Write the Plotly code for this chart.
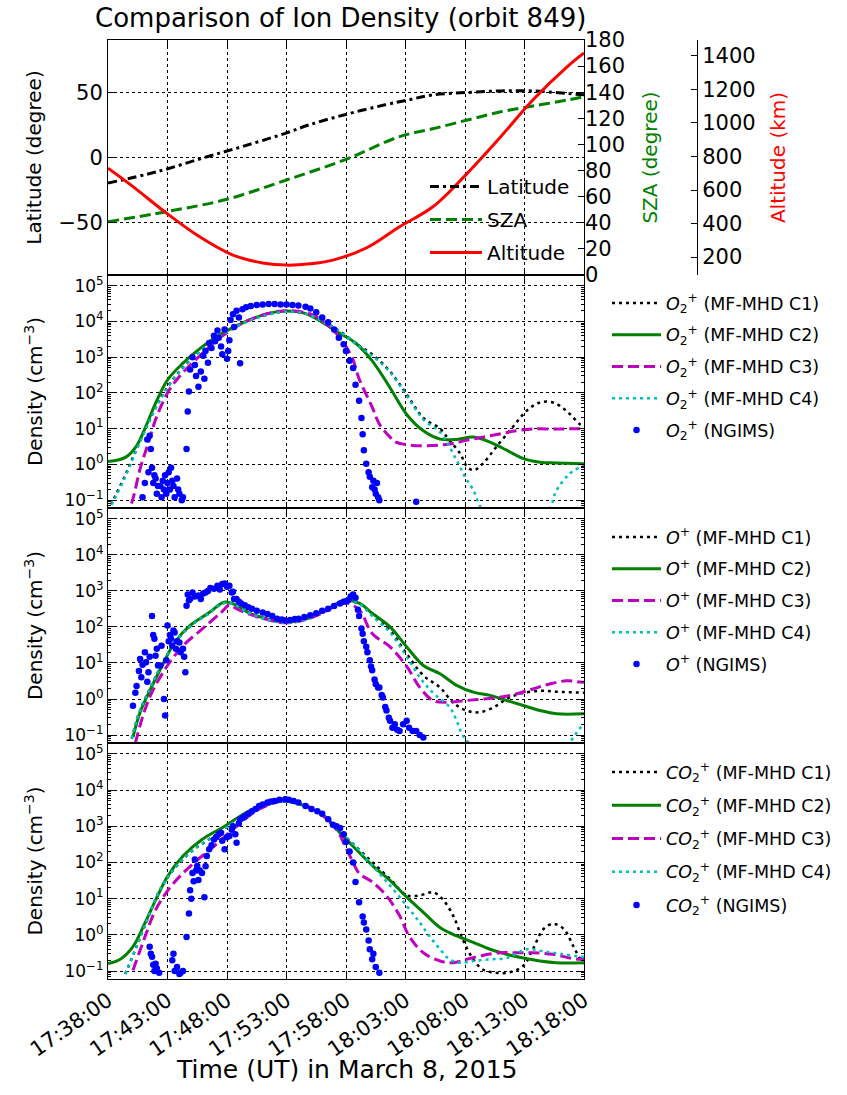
import pandas as pd
import plotly.graph_objects as go

BASE = pd.Timestamp("2015-03-08 17:38:00")

def T(mins):
    return BASE + pd.to_timedelta(mins, unit="min")

# ---------------- Top panel: orbit geometry (minutes after 17:38) ----------------
lat_t = [0, 4.2, 8.4, 10.4, 14.9, 16.9, 19.9, 23.3, 25.2, 27.3, 30.2, 33, 35.7, 38.6, 40]
lat_v = [-19.6, -10.7, 0.8, 6, 18.5, 25, 32.8, 40.4, 44, 48, 49.8, 51, 51, 49, 48]
sza_t = [0, 4.9, 10, 15, 20, 24.5, 27.3, 30.2, 33, 35.7, 38.6, 40]
sza_v = [40.8, 48.5, 58, 72.8, 88.6, 106, 112, 118.7, 125, 129.4, 134, 136.6]
alt_t = [0, 2.1, 4.9, 7.7, 10.5, 13.0, 15.0, 17.0, 18.9, 21.7, 24.5, 27.3, 30.2, 33, 35.7, 38.6, 40]
alt_v = [730, 620, 463, 321, 212, 165, 152, 160, 182, 254, 381, 500, 701, 918, 1137, 1336, 1418]

# ---------------- O2+ panel ----------------
o2_c1_t = [0, 0.5, 1.45, 2.4, 3.4, 4.35, 5.5, 7.0, 9.0, 11.5, 13.5, 15, 16.6, 18.2, 19.8, 21, 22.2, 23.7, 25.1, 26.5, 27.9, 28.7, 29.6, 30.1, 30.7, 31.5, 32.6, 34, 35.2, 36.3, 37.4, 38.5, 39.7, 40]
o2_c1_v = [0.05, 0.11, 0.5, 2.7, 15, 65, 250, 890, 3200, 9500, 15800, 19000, 16600, 9500, 4500, 2200, 1200, 400, 91, 20, 10, 4.7, 2.0, 0.93, 0.68, 1.05, 3.0, 11, 32, 54, 54, 32, 13, 12]
o2_c2_t = [0, 1.5, 2.4, 3.2, 4.0, 5.0, 6.3, 7.9, 9.8, 11.8, 13.4, 15.0, 16.6, 18.2, 19.4, 20.8, 22.2, 23.7, 25.1, 26.5, 27.9, 29.3, 30.7, 32.1, 33.5, 34.9, 36.3, 37.7, 40]
o2_c2_v = [1.2, 1.6, 3.3, 12, 52, 230, 680, 1950, 5100, 10700, 16600, 19500, 16600, 8700, 4800, 2500, 790, 140, 25, 8.7, 5.1, 5.0, 5.8, 4.2, 2.5, 1.45, 1.15, 1.1, 1.05]
o2_c3_t = [1.5, 2.1, 2.7, 3.4, 4.0, 5.0, 6.0, 7.6, 9.5, 11.8, 14.0, 15.3, 17.3, 19.2, 20.5, 21.1, 22.2, 22.8, 23.7, 24.2, 25.6, 27.3, 28.7, 30.1, 31.5, 32.9, 34.3, 35.7, 37.7, 40]
o2_c3_v = [0.03, 0.11, 0.76, 4.1, 18, 100, 290, 1000, 3700, 10700, 18200, 20000, 14800, 4600, 1000, 250, 40, 13.5, 5.8, 4.2, 3.4, 3.4, 3.7, 4.7, 5.8, 7.1, 8.7, 9.8, 9.8, 10]
o2_c4_t = [0, 0.5, 1.45, 2.4, 3.4, 4.35, 5.5, 7, 9, 11.5, 13.5, 15, 16.6, 18.2, 19.8, 21, 22.2, 23.7, 25.1, 26.5, 27.9, 29.3, 30.0, 30.7, 31.5, 33, 35, 37.0, 37.7, 38.8, 39.7, 40]
o2_c4_v = [0.05, 0.1, 0.45, 2.5, 14, 60, 240, 870, 3100, 9300, 15500, 18800, 16300, 9300, 4400, 2100, 1100, 380, 85, 18, 8, 1.3, 0.45, 0.19, 0.05, 0.02, 0.02, 0.05, 0.19, 0.55, 0.85, 0.9]
o2_ng_t = [2.9, 3.1, 3.3, 3.4, 3.5, 3.6, 3.7, 3.8, 3.9, 4.0, 4.1, 4.2, 4.4, 4.5, 4.6, 4.7, 4.8, 4.9, 5.0, 5.1, 5.2, 5.3, 5.4, 5.5, 5.6, 5.8, 5.9, 6.0, 6.2, 6.3,
           6.6, 6.7, 6.8, 6.9, 7.1, 7.3, 7.4, 7.6, 7.8, 8.0, 8.1, 8.2, 8.4, 8.5, 8.7, 8.9, 9.0, 9.2, 9.3, 9.5, 9.6, 9.8, 10.0, 10.1, 10.2, 10.3, 10.5, 10.6, 10.8, 11.0, 11.1,
           11.3, 11.6, 12.0, 12.5, 13.0, 13.5, 14.0, 14.5, 15.0, 15.5, 16.0, 16.6, 17.0, 17.5, 18.0, 18.5, 19.0, 19.4, 19.8, 20.0, 20.3, 20.6, 20.8, 21.1, 21.3, 21.4, 21.5,
           21.7, 21.9, 22.0, 22.2, 22.3, 22.4, 22.5, 22.6, 22.7, 22.8, 25.9]
o2_ng_v = [0.12, 0.3, 5, 0.6, 6.3, 2.7, 0.8, 0.3, 0.5, 0.4, 0.15, 0.25, 0.25, 0.12, 0.35, 0.2, 0.5, 0.15, 0.3, 0.6, 0.2, 0.8, 0.35, 0.25, 0.12, 0.4, 0.2, 0.15, 0.1, 0.12,
           2.7, 30, 110, 450, 1000, 600, 300, 150, 400, 1100, 250, 1500, 700, 2500, 1800, 4000, 2800, 5600, 3500, 2000, 1200, 6000, 900, 1500, 3000, 11000, 16000, 7000, 20000, 13000, 680,
           22000, 25000, 27000, 29000, 30000, 31000, 31000, 30000, 30000, 29000, 28000, 26000, 23000, 18000, 13000, 9500, 6000, 3500, 2300, 1500, 800, 500, 170, 60, 20, 7, 2.5,
           1.05, 0.6, 0.45, 0.23, 0.35, 0.2, 0.15, 0.3, 0.12, 0.1, 0.09]

# ---------------- O+ panel ----------------
op_c1_t = [2.0, 2.6, 3.6, 4.6, 5.6, 6.9, 8.5, 9.8, 10.8, 11.8, 13.4, 14.9, 16.6, 18.2, 19.8, 21.1, 22.2, 23.7, 25.1, 26.5, 27.9, 29, 30.1, 31.2, 32.4, 33.5, 34.6, 36.3, 37.7, 40]
op_c1_v = [0.08, 0.4, 2.2, 10, 36, 105, 240, 470, 390, 245, 160, 130, 160, 270, 520, 440, 220, 80, 18, 4.5, 2.1, 0.8, 0.48, 0.43, 0.59, 1.0, 1.4, 1.7, 1.6, 1.5]
op_c2_t = [2.1, 2.7, 3.7, 4.7, 5.6, 6.9, 8.5, 9.8, 10.8, 11.8, 13.4, 14.9, 16.6, 18.2, 19.8, 21.1, 22.2, 23.7, 25.1, 26.5, 27.9, 29.3, 30.7, 32.1, 33.5, 34.9, 36.3, 37.7, 40]
op_c2_v = [0.087, 0.43, 2.3, 10.5, 37, 110, 250, 490, 400, 250, 166, 135, 166, 280, 540, 460, 240, 100, 28, 8.5, 5.0, 2.4, 1.55, 1.26, 0.91, 0.66, 0.48, 0.39, 0.39]
op_c3_t = [2.3, 3.0, 3.7, 5.0, 6.3, 7.9, 9.5, 10.2, 10.8, 11.8, 13.4, 14.9, 16.6, 18.2, 19.8, 21.1, 22.2, 23.7, 25.1, 26.2, 27.3, 28.4, 30.1, 31.5, 32.9, 34.3, 35.7, 37.1, 38.5, 39.7, 40]
op_c3_v = [0.06, 0.4, 1.55, 8.5, 30, 87, 250, 400, 320, 230, 160, 130, 160, 260, 480, 300, 66, 28, 8, 2.1, 0.91, 0.81, 0.91, 1.0, 1.12, 1.38, 1.9, 2.6, 3.2, 2.95, 2.9]
op_c4_t = [2.0, 2.6, 3.6, 4.6, 5.6, 6.9, 8.5, 9.8, 10.8, 11.8, 13.4, 14.9, 16.6, 18.2, 19.8, 21.1, 22.2, 23.7, 25.1, 26.2, 27.3, 28.7, 29.3, 29.8, 31, 33, 36, 38.5, 39.1, 39.7, 40]
op_c4_v = [0.08, 0.4, 2.2, 10, 36, 105, 240, 470, 390, 245, 160, 130, 160, 270, 520, 440, 200, 70, 15, 4, 1.5, 0.6, 0.25, 0.1, 0.04, 0.03, 0.03, 0.05, 0.085, 0.16, 0.18]
op_ng_t = [2.1, 2.3, 2.4, 2.6, 2.7, 2.8, 2.9, 3.1, 3.2, 3.3, 3.4, 3.5, 3.7, 3.8, 3.9, 4.0, 4.1, 4.2, 4.4, 4.5, 4.7, 4.8, 4.9, 5.0, 5.1, 5.2, 5.3, 5.4, 5.5, 5.6, 5.7, 5.8, 6.0, 6.1, 6.3, 6.4, 6.5,
           6.6, 6.7, 6.8, 6.9, 7.1, 7.3, 7.6, 7.8, 8.0, 8.2, 8.4, 8.6, 8.9, 9.2, 9.4, 9.6, 9.8, 10.0, 10.2, 10.4, 10.5, 10.6, 10.8, 11.0, 11.2, 11.5, 11.8, 12.1, 12.5, 13.0,
           13.4, 13.8, 14.2, 14.6, 14.9, 15.3, 15.7, 16.0, 16.5, 17.0, 17.5, 18.0, 18.5, 19.0, 19.5, 19.8, 20.0, 20.2, 20.4, 20.6, 20.8, 21.0, 21.1, 21.3, 21.4, 21.5, 21.7,
           21.8, 22.0, 22.1, 22.2, 22.4, 22.5, 22.7, 22.8, 23.0, 23.1, 23.3, 23.4, 23.6, 23.7, 23.9, 24.1, 24.3, 24.5, 24.8, 25.1, 25.3, 25.6, 25.9, 26.2, 26.5]
op_ng_v = [0.65, 1.5, 2.3, 6, 13, 4, 9, 20, 10.5, 3, 5.5, 15, 200, 60, 47, 16, 25, 8.5, 8.5, 30, 1.0, 0.35, 12, 110, 40, 60, 47, 30, 80, 70, 25, 40, 37, 20, 25, 15, 5.5,
           390, 800, 550, 600, 900, 700, 740, 600, 850, 910, 1000, 1200, 1150, 1400, 1100, 1550, 1600, 1300, 1400, 900, 950, 600, 600, 500, 450, 400, 350, 320, 280, 250,
           230, 200, 170, 160, 150, 155, 165, 170, 190, 210, 240, 280, 320, 380, 450, 500, 520, 560, 700, 800, 650, 300, 200, 90, 65, 40, 28,
           20, 12, 8, 6.3, 3.5, 2.6, 2.1, 2.1, 1.3, 1.1, 0.6, 0.48, 0.3, 0.25, 0.16, 0.2, 0.14, 0.13, 0.2, 0.25, 0.16, 0.13, 0.13, 0.1, 0.085]

# ---------------- CO2+ panel ----------------
co2_c1_t = [1.45, 2.4, 3.4, 4.35, 5.5, 7.0, 9.0, 11.0, 13.0, 14.9, 16.6, 18.2, 19.5, 20.8, 22.2, 23.7, 25.1, 26.2, 27.3, 28.1, 29, 29.8, 30.7, 31.5, 32.6, 33.8, 34.9, 35.7, 36.6, 37.4, 38.3, 39.1, 39.7, 40]
co2_c1_v = [0.083, 0.47, 3.2, 17, 63, 200, 560, 1580, 3550, 4800, 3550, 1780, 710, 280, 102, 35, 12.3, 12.3, 15, 9.8, 3.4, 0.76, 0.21, 0.11, 0.089, 0.093, 0.14, 0.4, 1.45, 2.0, 1.45, 0.49, 0.21, 0.16]
co2_c2_t = [0, 1.1, 2.1, 3.1, 4.0, 5.0, 6.3, 7.9, 9.8, 11.8, 13.4, 14.9, 16.6, 18.2, 19.4, 20.8, 22.2, 23.7, 25.1, 26.5, 27.9, 29.3, 30.7, 32.1, 33.5, 34.9, 36.3, 37.7, 40]
co2_c2_v = [0.16, 0.22, 0.47, 2.1, 9.1, 41, 150, 430, 1000, 2600, 4100, 5000, 3600, 1900, 710, 240, 83, 32, 11, 4.2, 1.6, 0.93, 0.62, 0.4, 0.29, 0.23, 0.19, 0.17, 0.17]
co2_c3_t = [2.1, 3.1, 4.0, 5.3, 6.9, 8.9, 10.8, 12.7, 14.9, 17.3, 19.2, 20.0, 20.6, 21.1, 22.2, 23.4, 24.5, 25.3, 26.5, 27.9, 29, 30.1, 31.5, 32.9, 34.3, 35.7, 37.4, 38.8, 39.7, 40]
co2_c3_v = [0.105, 0.87, 4.9, 22, 78, 280, 1000, 2950, 5000, 2950, 810, 250, 100, 50, 29, 12, 3.4, 0.93, 0.32, 0.19, 0.17, 0.21, 0.27, 0.32, 0.32, 0.32, 0.29, 0.23, 0.21, 0.21]
co2_c4_t = [1.45, 2.4, 3.4, 4.35, 5.5, 7.0, 9.0, 11.0, 13.0, 14.9, 16.6, 18.2, 19.5, 20.8, 22.2, 23.7, 25.1, 26.2, 27.0, 27.9, 28.7, 29.6, 30.7, 32.1, 33.5, 35.2, 36.6, 38, 39.7, 40]
co2_c4_v = [0.083, 0.47, 3.2, 17, 63, 200, 560, 1580, 3550, 4800, 3550, 1780, 710, 280, 83, 23, 6.3, 2.2, 0.93, 0.4, 0.21, 0.17, 0.19, 0.21, 0.23, 0.4, 0.35, 0.3, 0.25, 0.25]
co2_ng_t = [3.5, 3.6, 3.7, 3.8, 3.9, 4.0, 4.1, 4.3, 5.4, 5.5, 5.6, 5.8, 6.0, 6.1, 6.3, 6.6, 6.8, 6.9, 7.0, 7.1, 7.2, 7.3, 7.4, 7.5, 7.6, 7.7, 7.9, 8.1, 8.2, 8.3, 8.5, 8.7, 8.9,
            9.1, 9.3, 9.5, 9.6, 9.8, 10.0, 10.2, 10.4, 10.5, 10.7, 10.8, 11.0, 11.1, 11.3, 11.5, 11.8, 12.1, 12.4, 12.7, 13.0, 13.4, 13.7, 14.0, 14.4, 14.9, 15.2, 15.6,
            16.0, 16.6, 17.1, 17.6, 18.0, 18.5, 18.9, 19.2, 19.5, 19.8, 20.0, 20.3, 20.6, 20.8, 21.1, 21.4, 21.5, 21.7, 21.9, 22.0, 22.2, 22.3, 22.5, 22.8]
co2_ng_v = [0.47, 0.3, 0.25, 0.15, 0.1, 0.16, 0.12, 0.09, 0.2, 0.3, 0.1, 0.13, 0.083, 0.09, 0.1, 0.87, 3.9, 17, 10, 51, 30, 120, 60, 80, 33, 60, 51, 11, 78, 150, 230, 300, 430,
            500, 600, 660, 400, 230, 500, 540, 800, 1000, 600, 350, 1200, 1550, 1700, 1900, 2200, 2600, 3000, 3600, 4000, 4500, 4800, 5000, 5400, 5600, 5400, 5000,
            4500, 3600, 3000, 2600, 2200, 1550, 1100, 1000, 900, 600, 370, 200, 100, 29, 8, 3.2, 2.2, 1.4, 0.7, 0.4, 0.21, 0.3, 0.13, 0.09]

# ---------------- styling ----------------
W, H = 847, 1095
XL, XR = 108 / W, 584 / W
def dom(top_px, bot_px):
    return [1 - bot_px / H, 1 - top_px / H]

BLACK_DOT = "3px,4px"
DASH = "11px,5px"
GREEN = "#008000"
MAG = "#bf00bf"
CYAN = "#00bfbf"
FONT = "DejaVu Sans"

fig = go.Figure()

# top panel traces
fig.add_trace(go.Scatter(x=T(lat_t), y=lat_v, mode="lines", name="Latitude",
                         line=dict(color="black", width=3, dash="9px,4px,3px,4px", shape="spline"),
                         xaxis="x", yaxis="y", legend="legend", legendgroup="a"))
fig.add_trace(go.Scatter(x=T(sza_t), y=sza_v, mode="lines", name="SZA",
                         line=dict(color=GREEN, width=3, dash=DASH, shape="spline"),
                         xaxis="x", yaxis="y5", legend="legend", legendgroup="b"))
fig.add_trace(go.Scatter(x=T(alt_t), y=alt_v, mode="lines", name="Altitude",
                         line=dict(color="red", width=3, shape="spline"),
                         xaxis="x", yaxis="y6", legend="legend", legendgroup="c"))

panels = [
    ("<i>O</i><sub>2</sub><sup>+</sup>", "x2", "y2", "legend2",
     (o2_c1_t, o2_c1_v), (o2_c2_t, o2_c2_v), (o2_c3_t, o2_c3_v), (o2_c4_t, o2_c4_v), (o2_ng_t, o2_ng_v)),
    ("<i>O</i><sup>+</sup>", "x3", "y3", "legend3",
     (op_c1_t, op_c1_v), (op_c2_t, op_c2_v), (op_c3_t, op_c3_v), (op_c4_t, op_c4_v), (op_ng_t, op_ng_v)),
    ("<i>CO</i><sub>2</sub><sup>+</sup>", "x4", "y4", "legend4",
     (co2_c1_t, co2_c1_v), (co2_c2_t, co2_c2_v), (co2_c3_t, co2_c3_v), (co2_c4_t, co2_c4_v), (co2_ng_t, co2_ng_v)),
]
for ion, xa, ya, lg, c1, c2, c3, c4, ng in panels:
    styles = [
        (c1, "(MF-MHD C1)", dict(color="black", width=2.5, dash=BLACK_DOT, shape="spline")),
        (c2, "(MF-MHD C2)", dict(color=GREEN, width=3, shape="spline")),
        (c3, "(MF-MHD C3)", dict(color=MAG, width=3, dash=DASH, shape="spline")),
        (c4, "(MF-MHD C4)", dict(color=CYAN, width=2.5, dash=BLACK_DOT, shape="spline")),
    ]
    for i, (data, lab, ln) in enumerate(styles):
        fig.add_trace(go.Scatter(x=T(data[0]), y=data[1], mode="lines", name=f"{ion} {lab}",
                                 line=ln, xaxis=xa, yaxis=ya, legend=lg, legendgroup=f"{lg}{i}"))
    fig.add_trace(go.Scatter(x=T(ng[0]), y=ng[1], mode="markers", name=f"{ion} (NGIMS)",
                             marker=dict(color="blue", size=6.5, line=dict(width=0)),
                             xaxis=xa, yaxis=ya, legend=lg, legendgroup=f"{lg}5"))

xrange = [T(0), T(40)]
common_x = dict(domain=[XL, XR], type="date", range=xrange, dtick=300000, tick0=T(0),
                ticks="inside", ticklen=6, tickcolor="black", mirror="ticks", showline=True,
                linecolor="black", linewidth=1, showgrid=True, gridcolor="black", griddash="dot",
                gridwidth=1, tickformat="%H:%M:%S", zeroline=False, automargin=False)

decs = [0.1, 1, 10, 100, 1000, 1e4, 1e5]
dec_txt = ["10<sup>\u22121</sup>", "10<sup>0</sup>", "10<sup>1</sup>", "10<sup>2</sup>",
           "10<sup>3</sup>", "10<sup>4</sup>", "10<sup>5</sup>"]
minor_vals = [m * d for d in [0.01, 0.1, 1, 10, 100, 1000, 1e4, 1e5] for m in range(2, 10)]
common_log = dict(type="log", range=[-1.22, 5.3], tickvals=decs, ticktext=dec_txt,
                  ticks="inside", ticklen=6, tickcolor="black", mirror="ticks", showline=True,
                  linecolor="black", linewidth=1, showgrid=True, gridcolor="black", griddash="dot",
                  gridwidth=1, tickfont=dict(size=17, color="black"), automargin=False,
                  minor=dict(tickvals=minor_vals, ticks="inside", ticklen=3, tickcolor="black", showgrid=False),
                  title=dict(text="Density (cm<sup>\u22123</sup>)", font=dict(size=20, color="black"), standoff=16))

tick_font = dict(size=21, color="black", family=FONT)

layout = dict(
    width=W, height=H, margin=dict(l=0, r=0, t=0, b=0, autoexpand=False),
    paper_bgcolor="white", plot_bgcolor="white",
    font=dict(family=FONT, color="black", size=20),
    xaxis=dict(common_x, anchor="y", showticklabels=False),
    xaxis2=dict(common_x, anchor="y2", showticklabels=False, matches="x"),
    xaxis3=dict(common_x, anchor="y3", showticklabels=False, matches="x"),
    xaxis4=dict(common_x, anchor="y4", showticklabels=True, matches="x", tickangle=-35,
                tickfont=tick_font),
    yaxis=dict(domain=dom(40, 275), anchor="x", range=[-90, 90], tickvals=[-50, 0, 50],
               ticks="inside", ticklen=6, tickcolor="black", mirror=True, showline=True,
               linecolor="black", showgrid=True, gridcolor="black", griddash="dot", zeroline=False,
               tickfont=tick_font, automargin=False,
               title=dict(text="Latitude (degree)", font=dict(size=20, color="black"), standoff=11)),
    yaxis5=dict(overlaying="y", anchor="x", side="right", range=[0, 180], dtick=20,
                ticks="inside", ticklen=6, tickcolor="black", showgrid=False, zeroline=False,
                showline=False, tickfont=tick_font, automargin=False,
                title=dict(text="SZA (degree)", font=dict(size=20, color=GREEN), standoff=18)),
    yaxis6=dict(overlaying="y", anchor="free", position=697 / W, side="right", range=[93, 1495],
                tickvals=[200, 400, 600, 800, 1000, 1200, 1400],
                ticks="inside", ticklen=6, tickcolor="black", showgrid=False, zeroline=False,
                showline=True, linecolor="black", tickfont=tick_font, automargin=False,
                title=dict(text="Altitude (km)", font=dict(size=20, color="red"), standoff=16)),
    yaxis2=dict(common_log, domain=dom(275, 508), anchor="x2"),
    yaxis3=dict(common_log, domain=dom(508, 743), anchor="x3"),
    yaxis4=dict(common_log, domain=dom(743, 979), anchor="x4"),
    legend=dict(x=425 / W, y=1 - 167 / H, xanchor="left", yanchor="top", bgcolor="rgba(0,0,0,0)",
                font=dict(size=20, color="black"), traceorder="grouped", tracegroupgap=4,
                itemwidth=52),
    showlegend=True,
)
for k, ytop, gap in [("legend2", 285, 6), ("legend3", 519, 6), ("legend4", 754, 7.5)]:
    layout[k] = dict(x=607 / W, y=1 - ytop / H, xanchor="left", yanchor="top",
                     bgcolor="rgba(0,0,0,0)", font=dict(size=17.5, color="black"),
                     traceorder="grouped", tracegroupgap=gap, itemwidth=49)
fig.update_layout(**layout)

fig.add_annotation(text="Comparison of Ion Density (orbit 849)", x=340 / W, y=1 - 18 / H,
                   xref="paper", yref="paper", showarrow=False, font=dict(size=26, color="black"),
                   xanchor="center", yanchor="middle")
fig.add_annotation(text="Time (UT) in March 8, 2015", x=346 / W, y=1 - 1069 / H,
                   xref="paper", yref="paper", showarrow=False, font=dict(size=25, color="black"),
                   xanchor="center", yanchor="middle")

fig.write_html("out.html")
